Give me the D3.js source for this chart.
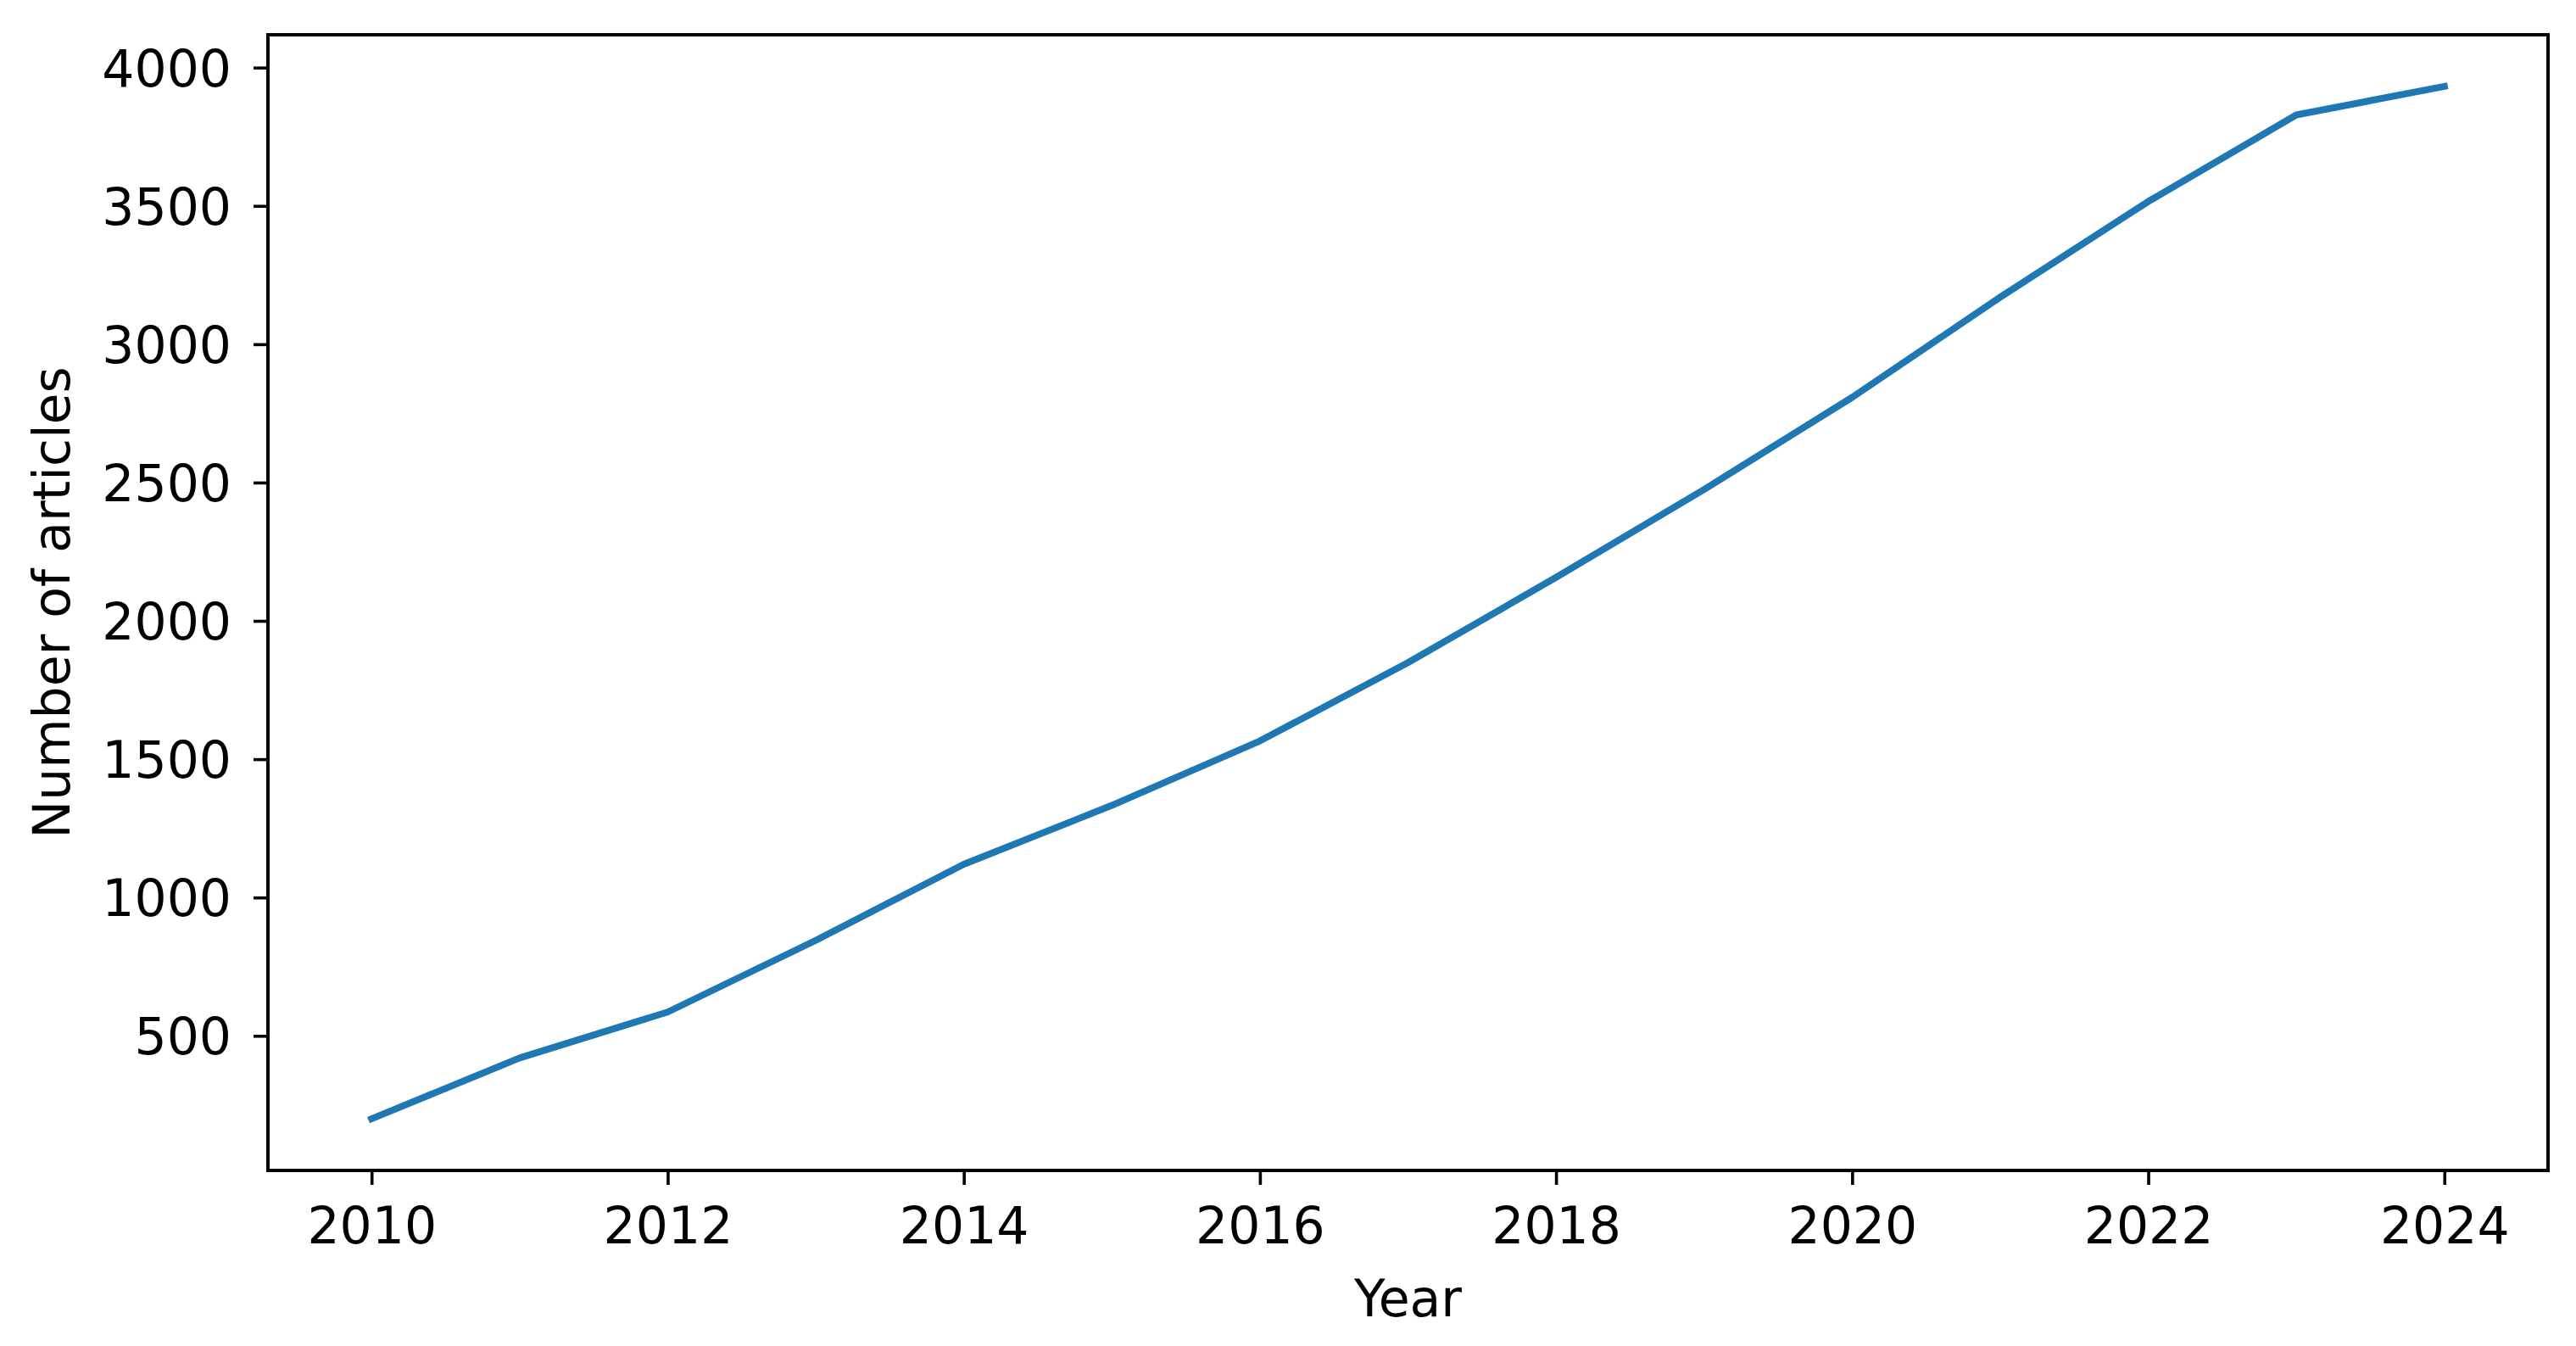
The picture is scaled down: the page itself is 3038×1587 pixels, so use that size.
<!DOCTYPE html>
<html>
<head>
<meta charset="utf-8">
<script src="https://cdn.jsdelivr.net/npm/d3@7"></script>
<style>
  body { margin: 0; background: #fff; }
  svg text { font-family: 'DejaVu Sans', sans-serif; fill: #000; }
  .line { fill: none; stroke: #1f77b4; stroke-width: 8; stroke-linejoin: round; stroke-linecap: square; }
  .frame { fill: none; stroke: #000; stroke-width: 4; }
  .axis line { stroke: #000; stroke-width: 3.6; }
  .axis text { font-size: 60px; }
  .label { font-size: 60px; }
</style>
</head>
<body>
<div id="chart"></div>
<script>
// data
const years = [2010, 2011, 2012, 2013, 2014, 2015, 2016, 2017, 2018, 2019, 2020, 2021, 2022, 2023, 2024];
const articles = [200, 420, 586, 845, 1120, 1333, 1566, 1849, 2157, 2475, 2808, 3170, 3516, 3829, 3932];
const xTicks = [2010, 2012, 2014, 2016, 2018, 2020, 2022, 2024];
const yTicks = [500, 1000, 1500, 2000, 2500, 3000, 3500, 4000];
const xLabel = 'Year';
const yLabel = 'Number of articles';

function lineChart(parent) {
  const _width = 3038;
  const _height = 1587;
  const _margin = { top: 41, right: 33, bottom: 207, left: 316 };
  const width = _width - _margin.left - _margin.right;
  const height = _height - _margin.top - _margin.bottom;

  // matplotlib style 5% padding on both axes
  const xExt = d3.extent(years);
  const yExt = d3.extent(articles);
  const xPad = (xExt[1] - xExt[0]) * 0.05;
  const yPad = (yExt[1] - yExt[0]) * 0.05;

  const x = d3.scaleLinear()
    .domain([xExt[0] - xPad, xExt[1] + xPad])
    .range([0, width]);
  const y = d3.scaleLinear()
    .domain([yExt[0] - yPad, yExt[1] + yPad])
    .range([height, 0]);

  const svg = d3.select(parent).append('svg')
      .attr('width', _width)
      .attr('height', _height);

  const g = svg.append('g')
      .attr('transform', `translate(${_margin.left}, ${_margin.top})`);

  // line
  const rows = years.map((yr, i) => ({ year: yr, value: articles[i] }));
  g.append('path')
      .datum(rows)
      .attr('class', 'line')
      .attr('d', d3.line().x(d => x(d.year)).y(d => y(d.value)));

  // axes
  const xAxis = d3.axisBottom(x)
    .tickValues(xTicks)
    .tickFormat(d3.format('d'))
    .tickSizeInner(17)
    .tickSizeOuter(0)
    .tickPadding(26);

  const yAxis = d3.axisLeft(y)
    .tickValues(yTicks)
    .tickFormat(d3.format('d'))
    .tickSizeInner(17)
    .tickSizeOuter(0)
    .tickPadding(26);

  g.append('g')
      .attr('class', 'x axis')
      .attr('transform', `translate(0, ${height})`)
      .call(xAxis)
      .call(a => a.select('.domain').remove())
      .call(a => a.selectAll('text').attr('font-family', null).attr('font-size', null));

  g.append('g')
      .attr('class', 'y axis')
      .call(yAxis)
      .call(a => a.select('.domain').remove())
      .call(a => a.selectAll('text').attr('dy', '0.36em').attr('font-family', null).attr('font-size', null));

  // frame
  g.append('rect')
      .attr('class', 'frame')
      .attr('width', width)
      .attr('height', height);

  // axis labels
  svg.append('text')
      .attr('class', 'x label')
      .attr('text-anchor', 'middle')
      .attr('x', _margin.left + width / 2)
      .attr('y', 1552)
      .text(xLabel);

  svg.append('text')
      .attr('class', 'y label')
      .attr('text-anchor', 'middle')
      .attr('transform', `translate(82, ${_margin.top + height / 2}) rotate(-90)`)
      .text(yLabel);
}

lineChart('#chart');
</script>
</body>
</html>
